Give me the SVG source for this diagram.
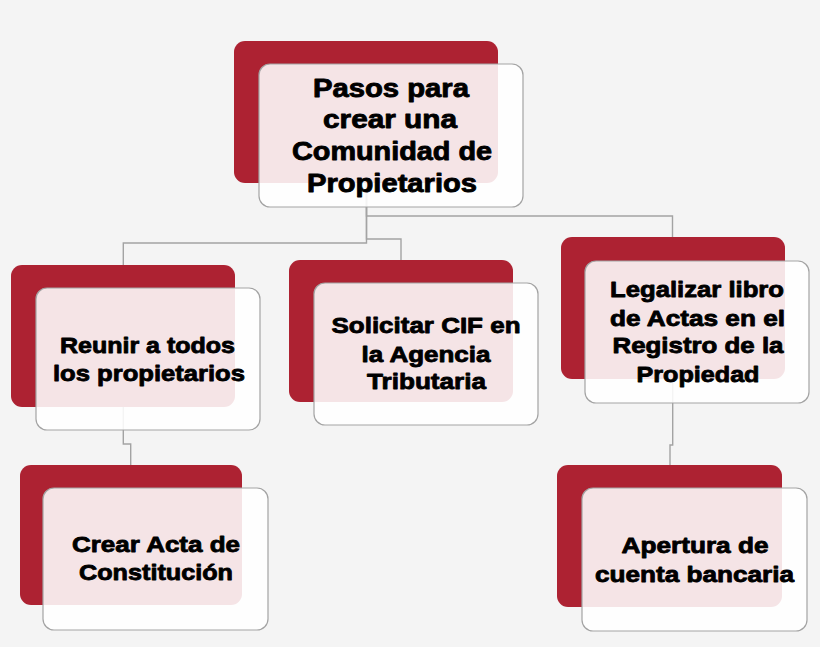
<svg xmlns="http://www.w3.org/2000/svg" width="820" height="647" viewBox="0 0 820 647">
<style>
.bg{fill:#f4f4f4}
.red{fill:#ad2232}
.card{fill:#ffffff;fill-opacity:0.88;stroke:#a3a3a3;stroke-width:1.2}
.conn{fill:none;stroke:#a3a3a3;stroke-width:1.4}
.t{font-family:"Liberation Sans",Arial,sans-serif;font-weight:bold;fill:#000;stroke:#000;stroke-width:0.85;stroke-linejoin:round;text-anchor:middle;font-size:22.5px}
.tt{font-size:25px}
</style>
<rect class="bg" x="0" y="0" width="820" height="647"/>
<g id="connectors">
<path class="conn" d="M366.5,183 V243 H123.3 V265"/>
<path class="conn" d="M366.5,183 V239 H401 V260"/>
<path class="conn" d="M366.5,183 V216 H672.5 V237"/>
<path class="conn" d="M123.3,407 V444 H130.7 V465"/>
<path class="conn" d="M672.7,379 V445 H670 V465"/>
</g>
<g id="node-root">
<rect class="red" x="234" y="41" width="264" height="142" rx="11"/>
<rect class="card" x="259" y="64" width="264" height="143" rx="11"/>
<text class="t tt" x="391" y="96.5" textLength="156" lengthAdjust="spacingAndGlyphs">Pasos para</text>
<text class="t tt" x="390" y="128.2" textLength="134" lengthAdjust="spacingAndGlyphs">crear una</text>
<text class="t tt" x="392" y="159.9" textLength="200" lengthAdjust="spacingAndGlyphs">Comunidad de</text>
<text class="t tt" x="392" y="191.6" textLength="170" lengthAdjust="spacingAndGlyphs">Propietarios</text>
</g>
<g id="node-reunir">
<rect class="red" x="11" y="265" width="224" height="142" rx="11"/>
<rect class="card" x="36" y="288" width="224" height="142" rx="11"/>
<text class="t" x="147.5" y="353.3" textLength="175" lengthAdjust="spacingAndGlyphs">Reunir a todos</text>
<text class="t" x="149" y="380.5" textLength="192" lengthAdjust="spacingAndGlyphs">los propietarios</text>
</g>
<g id="node-solicitar">
<rect class="red" x="289" y="260" width="224" height="142" rx="11"/>
<rect class="card" x="314" y="283" width="224" height="142" rx="11"/>
<text class="t" x="426" y="333.3" textLength="189" lengthAdjust="spacingAndGlyphs">Solicitar CIF en</text>
<text class="t" x="426" y="361.5" textLength="129" lengthAdjust="spacingAndGlyphs">la Agencia</text>
<text class="t" x="426.5" y="389.3" textLength="119" lengthAdjust="spacingAndGlyphs">Tributaria</text>
</g>
<g id="node-legalizar">
<rect class="red" x="561" y="237" width="224" height="142" rx="11"/>
<rect class="card" x="585" y="261" width="224" height="142" rx="11"/>
<text class="t" x="697" y="297.3" textLength="174" lengthAdjust="spacingAndGlyphs">Legalizar libro</text>
<text class="t" x="697.5" y="325.5" textLength="175" lengthAdjust="spacingAndGlyphs">de Actas en el</text>
<text class="t" x="698" y="353.3" textLength="171" lengthAdjust="spacingAndGlyphs">Registro de la</text>
<text class="t" x="698" y="381.5" textLength="123" lengthAdjust="spacingAndGlyphs">Propiedad</text>
</g>
<g id="node-crear">
<rect class="red" x="20" y="465" width="222" height="140" rx="11"/>
<rect class="card" x="43" y="488" width="225" height="142" rx="11"/>
<text class="t" x="156" y="551.7" textLength="168" lengthAdjust="spacingAndGlyphs">Crear Acta de</text>
<text class="t" x="156" y="580" textLength="154" lengthAdjust="spacingAndGlyphs">Constitución</text>
</g>
<g id="node-apertura">
<rect class="red" x="557" y="465" width="225" height="142" rx="11"/>
<rect class="card" x="582" y="488" width="225" height="143" rx="11"/>
<text class="t" x="695" y="553.3" textLength="147" lengthAdjust="spacingAndGlyphs">Apertura de</text>
<text class="t" x="694.5" y="581.7" textLength="199" lengthAdjust="spacingAndGlyphs">cuenta bancaria</text>
</g>
</svg>
